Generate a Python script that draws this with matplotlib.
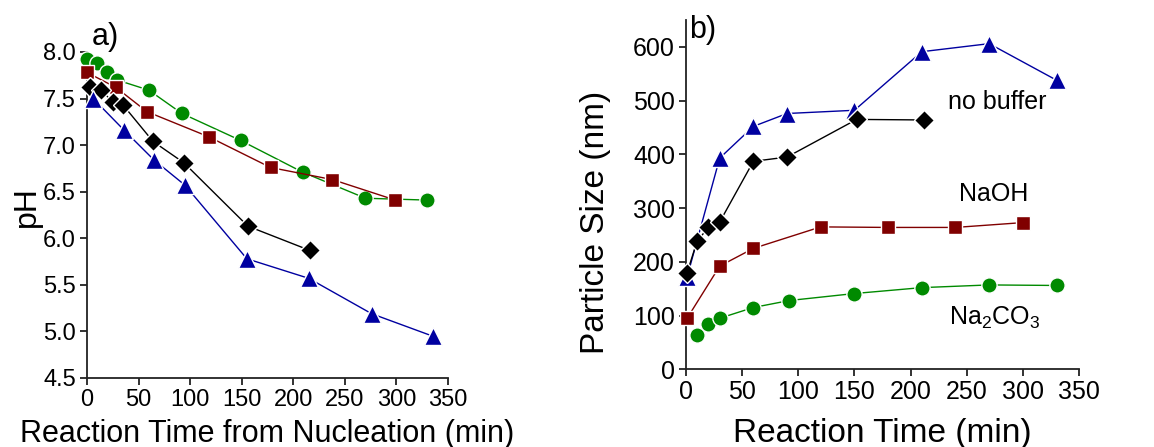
import matplotlib
matplotlib.use("Agg")
import matplotlib.pyplot as plt

plt.rcParams['font.family'] = ['Liberation Sans', 'DejaVu Sans']

# Panel a: pH vs reaction time from nucleation
a_green_x = [0, 10, 19, 29, 60, 92, 149, 209, 270, 330]
a_green_y = [7.93, 7.88, 7.78, 7.70, 7.59, 7.34, 7.05, 6.71, 6.43, 6.41]
a_red_x = [0, 28, 58, 118, 178, 238, 299]
a_red_y = [7.78, 7.62, 7.36, 7.09, 6.76, 6.63, 6.41]
a_black_x = [3, 14, 25, 35, 64, 94, 156, 216]
a_black_y = [7.62, 7.59, 7.46, 7.43, 7.04, 6.81, 6.13, 5.87]
a_blue_x = [6, 36, 65, 95, 155, 215, 276, 335]
a_blue_y = [7.50, 7.16, 6.84, 6.57, 5.78, 5.57, 5.19, 4.95]

# Panel b: particle size vs reaction time
b_blue_x = [1, 30, 60, 90, 150, 210, 270, 330]
b_blue_y = [172, 393, 452, 476, 482, 591, 606, 538]
b_black_x = [1, 10, 20, 30, 60, 90, 152, 212]
b_black_y = [180, 239, 264, 274, 387, 395, 465, 464]
b_red_x = [1, 30, 60, 120, 180, 240, 300]
b_red_y = [95, 192, 225, 265, 264, 264, 273]
b_green_x = [10, 20, 30, 60, 92, 150, 210, 270, 330]
b_green_y = [63, 84, 95, 115, 128, 141, 152, 157, 156]

GREEN = '#008a00'
RED = '#800000'
BLUE = '#0000a0'
BLACK = '#000000'

fig = plt.figure(figsize=(11.54, 4.47), dpi=100)
ax1 = fig.add_axes([87/1154, 1 - 378/447, (448 - 87)/1154, (378 - 52)/447])
ax2 = fig.add_axes([686/1154, 1 - 369.3/447, (1079 - 686)/1154, (369.3 - 20)/447])

def series(ax, x, y, color, marker, ms):
    ax.plot(x, y, color=color, lw=1.0, marker=marker, ms=ms,
            markerfacecolor=color, markeredgecolor='white', markeredgewidth=1.0,
            clip_on=False, zorder=3)

for ax, ls in ((ax1, 17), (ax2, 18)):
    ax.spines['top'].set_visible(False)
    ax.spines['right'].set_visible(False)
    for s in ('left', 'bottom'):
        ax.spines[s].set_linewidth(1.3)
        ax.spines[s].set_color('#222222')
    ax.tick_params(direction='out', length=5, width=1.3, labelsize=ls,
                   colors='#222222', labelcolor='black', pad=3)
    ax.set_xlim(0, 350)
    ax.set_xticks(range(0, 351, 50))

# Panel a
series(ax1, a_green_x, a_green_y, GREEN, 'o', 11)
series(ax1, a_red_x, a_red_y, RED, 's', 10)
series(ax1, a_black_x, a_black_y, BLACK, 'D', 10)
series(ax1, a_blue_x, a_blue_y, BLUE, '^', 13)
ax1.set_ylim(4.5, 8.0)
ax1.set_yticks([4.5, 5.0, 5.5, 6.0, 6.5, 7.0, 7.5, 8.0])
ax1.set_yticklabels(['4.5', '5.0', '5.5', '6.0', '6.5', '7.0', '7.5', '8.0'])
ax1.set_xlabel('Reaction Time from Nucleation (min)', fontsize=22)
ax1.xaxis.set_label_coords(0.5, -0.125)
ax1.set_ylabel('pH', fontsize=23)
ax1.yaxis.set_label_coords(-0.125, 0.525)
fig.text(105/1154, 1 - 37/447, 'a)', fontsize=22, ha='center', va='center')

# Panel b
series(ax2, b_green_x, b_green_y, GREEN, 'o', 11)
series(ax2, b_red_x, b_red_y, RED, 's', 10)
series(ax2, b_blue_x, b_blue_y, BLUE, '^', 13)
series(ax2, b_black_x, b_black_y, BLACK, 'D', 10)
ax2.set_ylim(0, 650)
ax2.set_yticks(range(0, 601, 100))
ax2.set_xlabel('Reaction Time (min)', fontsize=24)
ax2.xaxis.set_label_coords(0.5, -0.14)
ax2.set_ylabel('Particle Size (nm)', fontsize=24)
ax2.yaxis.set_label_coords(-0.19, 0.42)
ax2.text(277, 498, 'no buffer', fontsize=18, ha='center', va='center')
ax2.text(274, 327, 'NaOH', fontsize=18, ha='center', va='center')
ax2.text(275, 95, 'Na$_\\mathregular{2}$CO$_\\mathregular{3}$', fontsize=18, ha='center', va='center')
fig.text(703/1154, 1 - 30/447, 'b)', fontsize=22, ha='center', va='center')

fig.savefig('out.png', dpi=100)
